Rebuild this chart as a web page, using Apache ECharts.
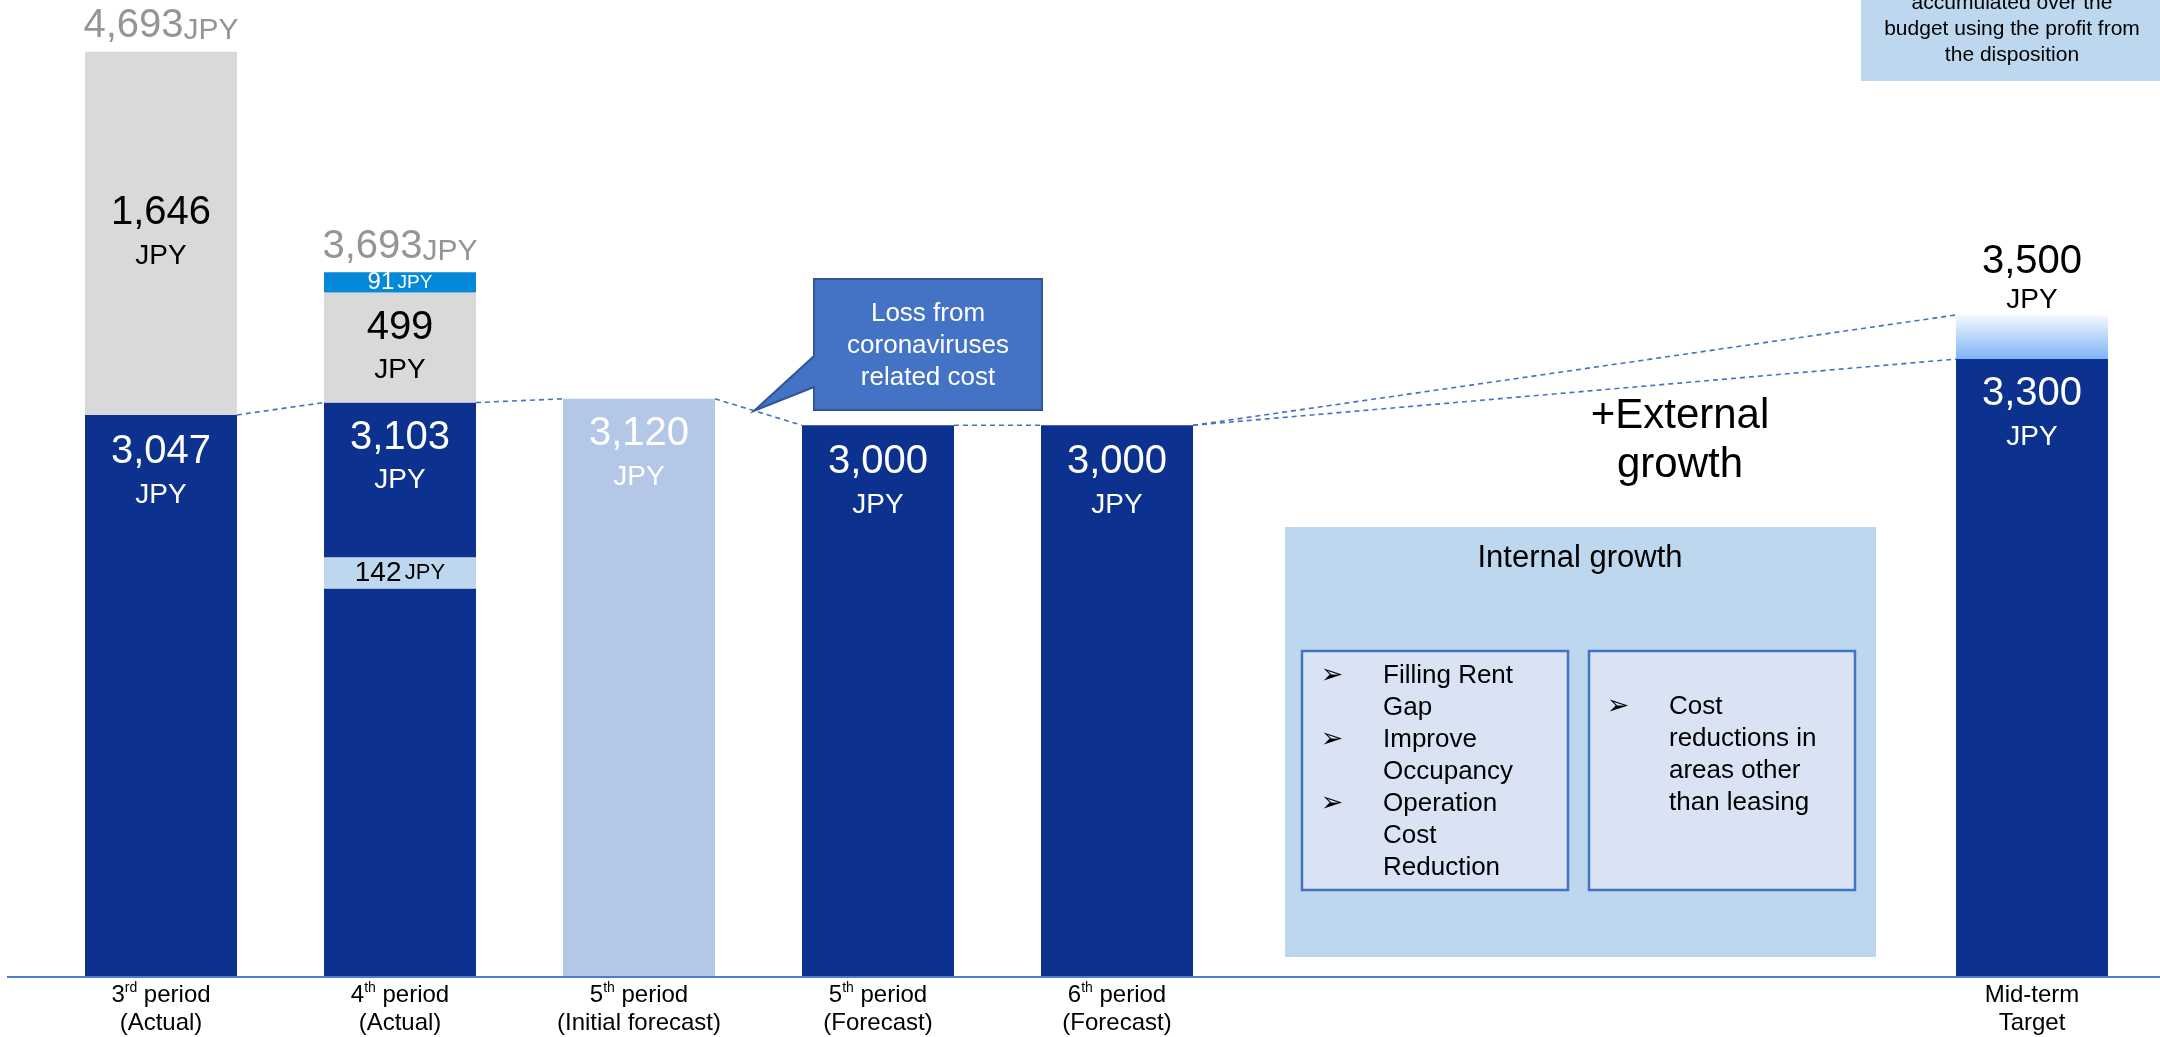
<!DOCTYPE html>
<html><head><meta charset="utf-8">
<script src="https://cdn.jsdelivr.net/npm/echarts@6/dist/echarts.min.js"></script>
<style>html,body{margin:0;padding:0;background:#fff;}#c{width:2160px;height:1037px;}</style>
</head><body><div id="c"></div>
<script>
// ---- data (JPY per unit) ----
const periods = ['3rd period\n(Actual)', '4th period\n(Actual)', '5th period\n(Initial forecast)', '5th period\n(Forecast)', '6th period\n(Forecast)'];
const targetLabel = ['Mid-term\nTarget'];
const dpu = [3047, 3103, null, 3000, 3000];              // dark blue distribution
const dpuInitialForecast = [null, null, 3120, null, null];
const dpuGainPart = [null, 142, null, null, null];        // light-blue part inside 3,103
const dpuGainLowerBase = [null, 2260, null, null, null];  // estimated level where the 142 band starts
const excessDist = [1646, 499, null, null, null];         // grey
const extraDist = [null, 91, null, null, null];           // bright blue
const totals = [4693, 3693, null, null, null];
const targetBase = [3300];
const targetStretch = [3500];
const yMin = 500, yMax = 4900;

// ---- styles ----
const F = "'Liberation Sans', Arial, sans-serif";
const BLUE = '#0c318f', GRAY = '#d9d9d9', CYAN = '#0389d8', PALE = '#bdd7ee', FORE = '#b4c7e7';
const fmt = v => Number(v).toLocaleString('en-US');
const inRich = c => ({ v: {fontSize: 40, lineHeight: 46, color: c, fontFamily: F}, u: {fontSize: 28, lineHeight: 40, color: c, fontFamily: F} });
const twoLine = v => `{v|${fmt(v)}}\n{u|JPY}`;

const lower = dpu.map((v, i) => dpuGainPart[i] != null ? dpuGainLowerBase[i] : v);
const upper = dpu.map((v, i) => dpuGainPart[i] != null ? v - dpuGainPart[i] - dpuGainLowerBase[i] : null);
const stretch = targetStretch.map((v, i) => v - targetBase[i]);

const catRich = {
  n: {fontSize: 24, lineHeight: 28, color: '#000', fontFamily: F},
  s: {fontSize: 14, lineHeight: 14, color: '#000', fontFamily: F, verticalAlign: 'top'}
};
const catFmt = val => val.split('\n').map(line => {
  const m = line.match(/^(\d+)(st|nd|rd|th)(.*)$/);
  return m ? `{n|${m[1]}}{s|${m[2]}}{n|${m[3]}}` : `{n|${line}}`;
}).join('\n');

const xAxisCommon = {type: 'category', axisLine: {show: false}, axisTick: {show: false},
  axisLabel: {margin: 4, interval: 0, formatter: catFmt, rich: catRich}};

const option = {
  animation: false,
  grid: [
    {left: 41.5, width: 1195, top: 6, bottom: 60},
    {left: 1912.5, width: 239, top: 6, bottom: 60}
  ],
  xAxis: [
    Object.assign({gridIndex: 0, data: periods}, xAxisCommon),
    Object.assign({gridIndex: 1, data: targetLabel}, xAxisCommon)
  ],
  yAxis: [
    {gridIndex: 0, type: 'value', min: yMin, max: yMax, show: false, splitLine: {show: false}},
    {gridIndex: 1, type: 'value', min: yMin, max: yMax, show: false, splitLine: {show: false}}
  ],
  series: [
    {name: 'DPU', type: 'bar', stack: 'a', barWidth: 152, data: lower, itemStyle: {color: BLUE},
      label: {show: true, position: 'insideTop', distance: 14,
        formatter: p => dpuGainPart[p.dataIndex] != null ? '' : twoLine(dpu[p.dataIndex]), rich: inRich('#fff')}},
    {name: 'Gain part', type: 'bar', stack: 'a', barWidth: 152, data: dpuGainPart, itemStyle: {color: PALE},
      label: {show: true, position: 'inside', formatter: p => `{v|${fmt(p.value)}} {u|JPY}`,
        rich: {v: {fontSize: 28, color: '#000', fontFamily: F}, u: {fontSize: 22, color: '#000', fontFamily: F}}}},
    {name: 'DPU upper', type: 'bar', stack: 'a', barWidth: 152, data: upper, itemStyle: {color: BLUE},
      label: {show: true, position: 'insideTop', distance: 12,
        formatter: p => twoLine(dpu[p.dataIndex]), rich: inRich('#fff')}},
    {name: 'Initial forecast', type: 'bar', stack: 'a', barWidth: 152, data: dpuInitialForecast, itemStyle: {color: FORE},
      label: {show: true, position: 'insideTop', distance: 12, formatter: p => twoLine(p.value), rich: inRich('#fff')}},
    {name: 'Excess', type: 'bar', stack: 'a', barWidth: 152, data: excessDist, itemStyle: {color: GRAY},
      label: {show: true, position: 'inside', formatter: p => twoLine(p.value), rich: inRich('#000')}},
    {name: 'Extra', type: 'bar', stack: 'a', barWidth: 152, data: extraDist, itemStyle: {color: CYAN},
      label: {show: true, position: 'inside', formatter: p => `{v|${fmt(p.value)}} {u|JPY}`,
        rich: {v: {fontSize: 24, color: '#fff', fontFamily: F}, u: {fontSize: 19, color: '#fff', fontFamily: F}}}},
    {name: 'Total', type: 'scatter', data: totals, symbolSize: 1, silent: true,
      itemStyle: {color: 'rgba(0,0,0,0)'},
      label: {show: true, position: 'top', distance: 5,
        formatter: p => `{v|${fmt(p.value)}}{u|JPY}`,
        rich: {v: {fontSize: 40, lineHeight: 40, verticalAlign: 'bottom', color: '#7a7a7a', fontFamily: F},
               u: {fontSize: 30, lineHeight: 30, verticalAlign: 'bottom', color: '#7a7a7a', fontFamily: F}}}},
    {name: 'Target', type: 'bar', xAxisIndex: 1, yAxisIndex: 1, stack: 'm', barWidth: 152, data: targetBase,
      itemStyle: {color: BLUE},
      label: {show: true, position: 'insideTop', distance: 12, formatter: p => twoLine(p.value), rich: inRich('#fff')}},
    {name: 'Target stretch', type: 'bar', xAxisIndex: 1, yAxisIndex: 1, stack: 'm', barWidth: 152, data: stretch,
      itemStyle: {color: new echarts.graphic.LinearGradient(0, 0, 0, 1, [{offset: 0, color: '#f6f9fe'}, {offset: 1, color: '#7fb3f7'}])},
      label: {show: true, position: 'top', distance: 0, formatter: p => twoLine(targetStretch[p.dataIndex]),
        rich: {v: {fontSize: 40, lineHeight: 46, color: '#000', fontFamily: F}, u: {fontSize: 28, lineHeight: 30, color: '#000', fontFamily: F}}}}
  ]
};

const chart = echarts.init(document.getElementById('c'));
chart.setOption(option);

// ---- annotations derived from the chart's scales ----
const HW = 76;
const px = (g, i, v) => chart.convertToPixel({xAxisIndex: g, yAxisIndex: g}, [i, v]);
const R = (g, i, v) => { const p = px(g, i, v); return [p[0] + HW, p[1]]; };
const L = (g, i, v) => { const p = px(g, i, v); return [p[0] - HW, p[1]]; };
const dash = {stroke: '#4472c4', lineWidth: 1.6, lineDash: [5, 4]};
const seg = (a, b) => ({type: 'line', shape: {x1: a[0], y1: a[1], x2: b[0], y2: b[1]}, style: dash, z: 50});

const b3r = R(0, 2, dpuInitialForecast[2]), b4l = L(0, 3, dpu[3]);
const tipX = b3r[0] + 0.45 * (b4l[0] - b3r[0]);
const tipY = b3r[1] + 0.45 * (b4l[1] - b3r[1]);
const axisY = px(0, 0, yMin)[1];

const txt = (x, y, text, size, opts) => ({type: 'text', x: x, y: y, z: 60,
  style: Object.assign({text: text, fontSize: size, fontFamily: F, fill: '#000',
    align: 'center', textAlign: 'center', verticalAlign: 'middle', textVerticalAlign: 'middle'}, opts || {})});
const BUL = {lineHeight: 32, verticalAlign: 'top', textVerticalAlign: 'top', fontFamily: "'DejaVu Sans', sans-serif"};

const graphics = [
  {type: 'line', shape: {x1: 7, y1: axisY, x2: 2160, y2: axisY}, style: {stroke: '#4a7ccf', lineWidth: 2}, z: 40},
  seg(R(0, 0, dpu[0]), L(0, 1, dpu[1])),
  seg(R(0, 1, dpu[1]), L(0, 2, dpuInitialForecast[2])),
  seg(b3r, b4l),
  seg(R(0, 3, dpu[3]), L(0, 4, dpu[4])),
  seg(R(0, 4, dpu[4]), L(1, 0, targetStretch[0])),
  seg(R(0, 4, dpu[4]), L(1, 0, targetBase[0])),
  // callout
  {type: 'polygon', z: 55, shape: {points: [[814, 279], [1042, 279], [1042, 410], [814, 410], [814, 387], [tipX, tipY], [814, 356]]},
    style: {fill: '#4472c4', stroke: '#2f5597', lineWidth: 2}},
  txt(928, 346, 'Loss from\ncoronaviruses\nrelated cost', 26, {fill: '#fff', lineHeight: 32}),
  // external growth
  txt(1680, 441, '+External\ngrowth', 42, {lineHeight: 49}),
  // internal growth panel
  {type: 'rect', z: 45, shape: {x: 1285, y: 527, width: 591, height: 430}, style: {fill: '#bdd7ee'}},
  txt(1580, 558, 'Internal growth', 31),
  {type: 'rect', z: 46, shape: {x: 1302, y: 651, width: 266, height: 239}, style: {fill: '#dae3f3', stroke: '#4472c4', lineWidth: 2.5}},
  {type: 'rect', z: 46, shape: {x: 1589, y: 651, width: 266, height: 239}, style: {fill: '#dae3f3', stroke: '#4472c4', lineWidth: 2.5}},
  txt(1332, 660, '➢\n\n➢\n\n➢', 27, BUL),
  txt(1383, 660, 'Filling Rent\nGap\nImprove\nOccupancy\nOperation\nCost\nReduction', 26,
    {lineHeight: 32, align: 'left', textAlign: 'left', verticalAlign: 'top', textVerticalAlign: 'top'}),
  txt(1618, 691, '➢', 27, BUL),
  txt(1669, 691, 'Cost\nreductions in\nareas other\nthan leasing', 26,
    {lineHeight: 32, align: 'left', textAlign: 'left', verticalAlign: 'top', textVerticalAlign: 'top'}),
  // top-right note
  {type: 'rect', z: 45, shape: {x: 1861, y: 0, width: 299, height: 81}, style: {fill: '#bdd7ee'}},
  txt(2012, 29, 'accumulated over the\nbudget using the profit from\nthe disposition', 21, {lineHeight: 26})
];
chart.setOption({graphic: graphics});
</script>
</body></html>
